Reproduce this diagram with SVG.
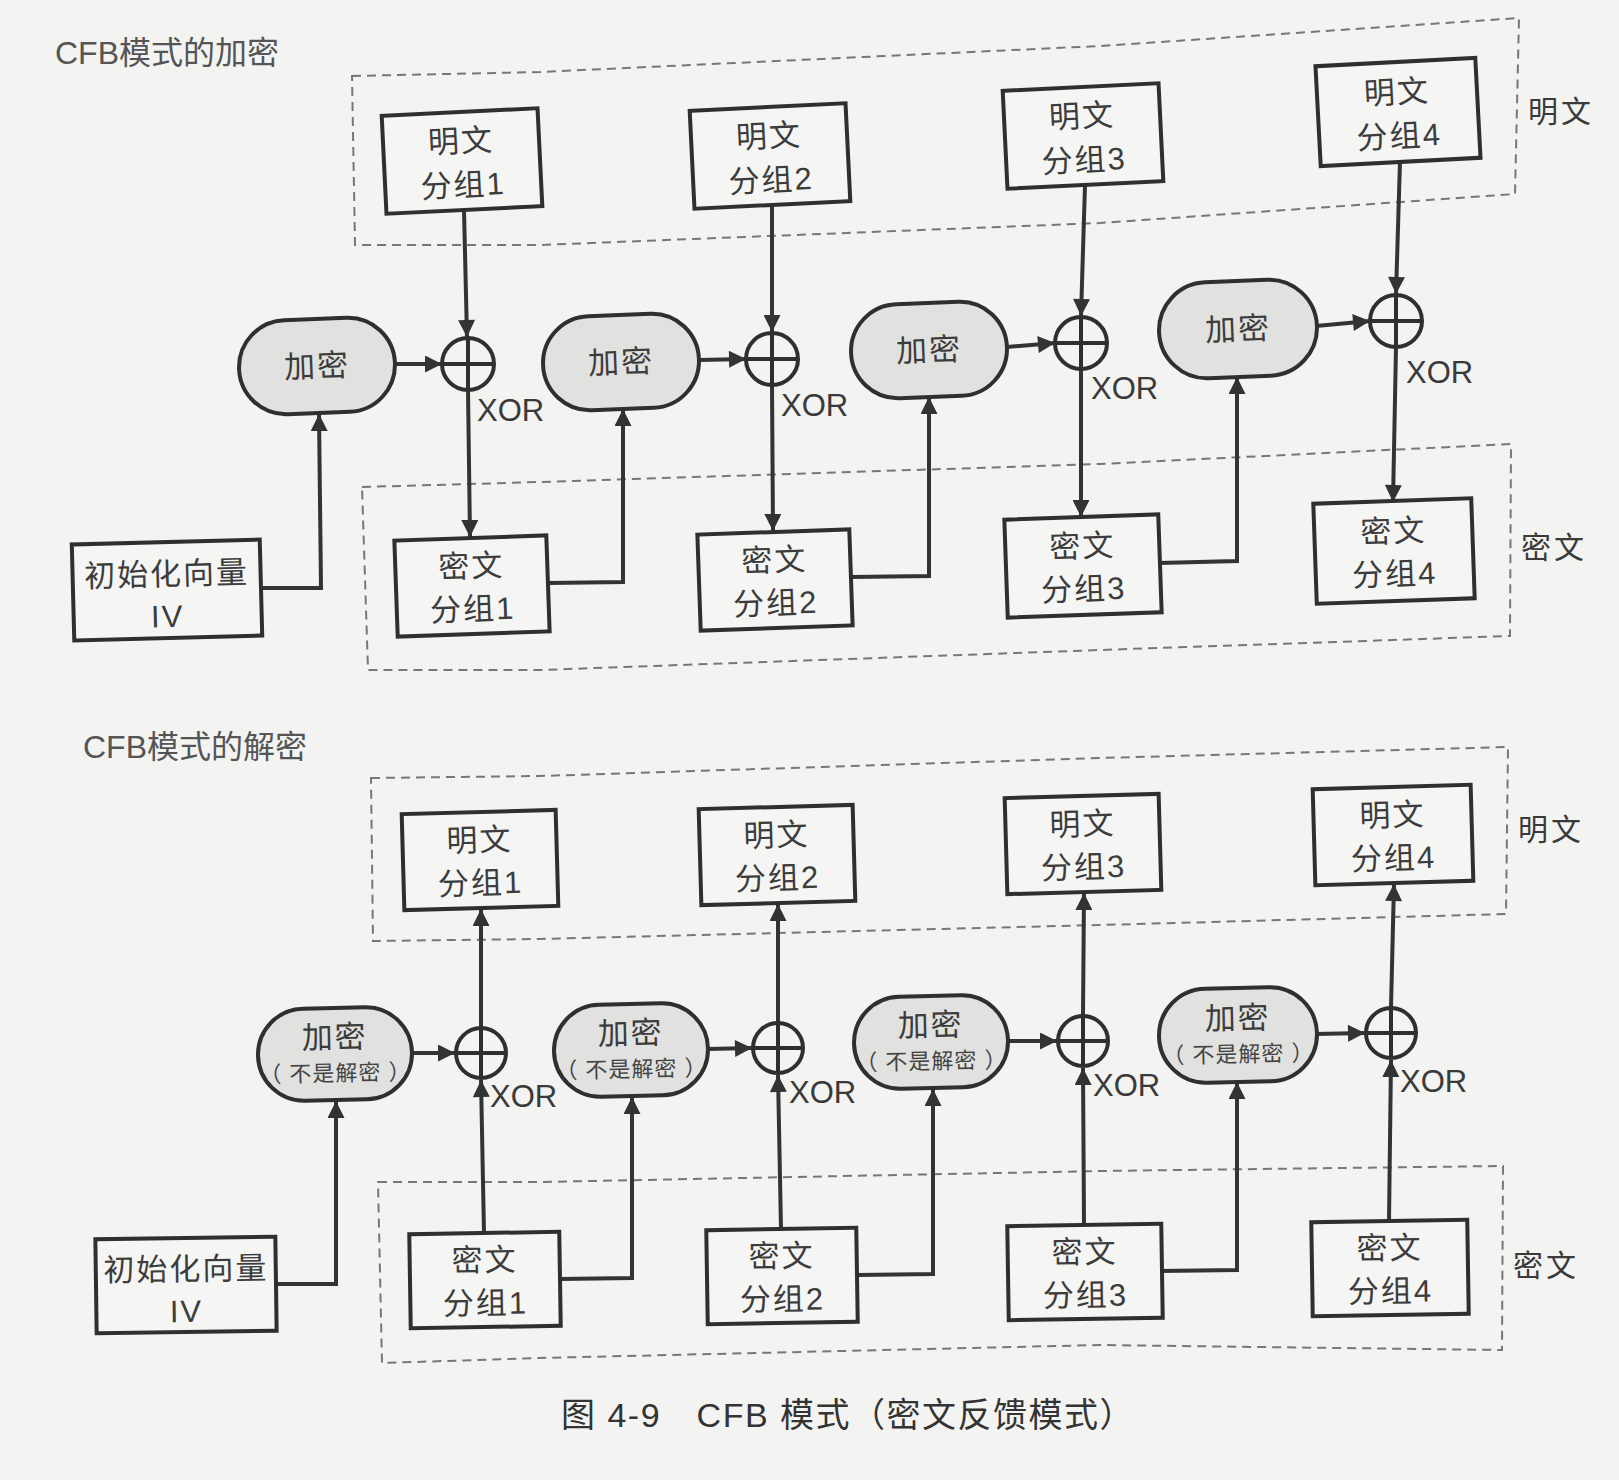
<svg xmlns="http://www.w3.org/2000/svg" width="1619" height="1480" viewBox="0 0 1619 1480">
<defs>
<style>
.bg{fill:#f3f3f1}
.box{fill:#f5f5f3;stroke:#2f2f2f;stroke-width:4}
.enc{fill:#e1e1df;stroke:#2f2f2f;stroke-width:4}
.xo{fill:none;stroke:#2f2f2f;stroke-width:4}
.t{font-family:"Liberation Sans","Noto Sans CJK SC",sans-serif;font-size:31px;fill:#3c3c3c;text-anchor:middle;letter-spacing:2px}
.s{font-family:"Liberation Sans","Noto Sans CJK SC",sans-serif;font-size:22px;fill:#444;text-anchor:middle;letter-spacing:1px}
.lbl{font-family:"Liberation Sans","Noto Sans CJK SC",sans-serif;font-size:30px;fill:#3a3a3a;letter-spacing:3px}
.xl{font-family:"Liberation Sans","Noto Sans CJK SC",sans-serif;font-size:31px;fill:#3a3a3a}
.ttl{font-family:"Liberation Sans","Noto Sans CJK SC",sans-serif;font-size:32px;fill:#555}
.cap{font-family:"Liberation Sans","Noto Sans CJK SC",sans-serif;font-size:34px;fill:#333;letter-spacing:1.5px}
.conn{fill:none;stroke:#333;stroke-width:4}
.dash{fill:none;stroke:#777;stroke-width:2;stroke-dasharray:9 6}
</style>
<marker id="arr" viewBox="0 0 10 10" refX="10" refY="5" markerUnits="userSpaceOnUse" markerWidth="26" markerHeight="17" orient="auto">
<path d="M0,0 L10,5 L0,10 z" fill="#333"/>
</marker>
</defs>
<rect class="bg" x="0" y="0" width="1619" height="1480"/>

<!-- titles -->
<text class="ttl" x="55" y="64">CFB模式的加密</text>
<text class="ttl" x="83" y="758">CFB模式的解密</text>
<text class="cap" x="561" y="1427">图 4-9　CFB 模式（密文反馈模式）</text>

<!-- dashed groups -->
<g id="groups">
<polygon class="dash" points="352,76 540,72 1100,46 1519,18 1515,194 1100,223 540,245 355,245"/>
<polygon class="dash" points="362,487 540,482 1100,464 1511,444 1510,636 1100,650 540,670 368,670"/>
<polygon class="dash" points="371,778 540,776 1100,758 1508,747 1506,914 1100,925 540,939 373,941"/>
<polygon class="dash" points="378,1182 540,1182 1100,1171 1503,1166 1502,1350 1100,1345 540,1358 382,1363"/>
<text class="lbl" x="1528" y="122">明文</text>
<text class="lbl" x="1521" y="558">密文</text>
<text class="lbl" x="1518" y="840">明文</text>
<text class="lbl" x="1513" y="1276">密文</text>
</g>

<!-- connectors -->
<g id="connectors">
<!-- encryption -->
<path class="conn" d="M464,210 L467,337" marker-end="url(#arr)"/>
<path class="conn" d="M468,390 L470,537" marker-end="url(#arr)"/>
<path class="conn" d="M395,364 L442,364" marker-end="url(#arr)"/>
<path class="conn" d="M261,588 L321,588 L319,414" marker-end="url(#arr)"/>
<path class="conn" d="M548,583 L623,582 L623,409" marker-end="url(#arr)"/>
<path class="conn" d="M851,577 L929,576 L929,397" marker-end="url(#arr)"/>
<path class="conn" d="M1159,563 L1237,561 L1237,377" marker-end="url(#arr)"/>
<path class="conn" d="M772,205 L772,332" marker-end="url(#arr)"/>
<path class="conn" d="M772,385 L773,531" marker-end="url(#arr)"/>
<path class="conn" d="M699,360 L746,359" marker-end="url(#arr)"/>
<path class="conn" d="M1085,185 L1081,316" marker-end="url(#arr)"/>
<path class="conn" d="M1081,369 L1081,517" marker-end="url(#arr)"/>
<path class="conn" d="M1007,347 L1055,343" marker-end="url(#arr)"/>
<path class="conn" d="M1400,161 L1396,294" marker-end="url(#arr)"/>
<path class="conn" d="M1396,347 L1393,502" marker-end="url(#arr)"/>
<path class="conn" d="M1316,326 L1370,321" marker-end="url(#arr)"/>
<!-- decryption -->
<path class="conn" d="M481,1027 L481,909" marker-end="url(#arr)"/>
<path class="conn" d="M484,1233 L481,1080" marker-end="url(#arr)"/>
<path class="conn" d="M412,1053 L455,1053" marker-end="url(#arr)"/>
<path class="conn" d="M276,1284 L336,1284 L336,1101" marker-end="url(#arr)"/>
<path class="conn" d="M560,1279 L632,1278 L632,1097" marker-end="url(#arr)"/>
<path class="conn" d="M857,1275 L933,1274 L933,1089" marker-end="url(#arr)"/>
<path class="conn" d="M1160,1271 L1237,1270 L1237,1082" marker-end="url(#arr)"/>
<path class="conn" d="M781,1229 L778,1075" marker-end="url(#arr)"/>
<path class="conn" d="M778,1022 L778,904" marker-end="url(#arr)"/>
<path class="conn" d="M708,1049 L752,1048" marker-end="url(#arr)"/>
<path class="conn" d="M1084,1225 L1083,1068" marker-end="url(#arr)"/>
<path class="conn" d="M1083,1015 L1084,893" marker-end="url(#arr)"/>
<path class="conn" d="M1008,1041 L1057,1041" marker-end="url(#arr)"/>
<path class="conn" d="M1389,1221 L1391,1060" marker-end="url(#arr)"/>
<path class="conn" d="M1391,1007 L1394,884" marker-end="url(#arr)"/>
<path class="conn" d="M1315,1034 L1365,1033" marker-end="url(#arr)"/>
</g>

<!-- encryption nodes -->
<g id="enc-plain1" transform="translate(462,161) rotate(-2.8)"><rect class="box" x="-78" y="-49" width="156" height="98"/><text class="t" y="-9">明文</text><text class="t" y="35">分组1</text></g>
<g id="enc-plain2" transform="translate(770,156) rotate(-2.8)"><rect class="box" x="-78" y="-49" width="156" height="98"/><text class="t" y="-9">明文</text><text class="t" y="35">分组2</text></g>
<g id="enc-plain3" transform="translate(1083,136) rotate(-2.8)"><rect class="box" x="-78" y="-49" width="156" height="98"/><text class="t" y="-9">明文</text><text class="t" y="35">分组3</text></g>
<g id="enc-plain4" transform="translate(1398,112) rotate(-3)"><rect class="box" x="-80" y="-50" width="160" height="100"/><text class="t" y="-9">明文</text><text class="t" y="35">分组4</text></g>

<g id="enc-e1" transform="translate(317,366) rotate(-2.2)"><rect class="enc" x="-78" y="-47" width="156" height="94" rx="47"/><text class="t" y="11">加密</text></g>
<g id="enc-e2" transform="translate(621,362) rotate(-2.2)"><rect class="enc" x="-78" y="-47" width="156" height="94" rx="47"/><text class="t" y="11">加密</text></g>
<g id="enc-e3" transform="translate(929,350) rotate(-2.2)"><rect class="enc" x="-78" y="-47" width="156" height="94" rx="47"/><text class="t" y="11">加密</text></g>
<g id="enc-e4" transform="translate(1238,329) rotate(-2.4)"><rect class="enc" x="-79" y="-48" width="158" height="96" rx="48"/><text class="t" y="11">加密</text></g>

<g id="enc-x1" transform="translate(468,364)"><circle class="xo" r="26"/><path class="xo" d="M-26,0 H26 M0,-26 V26"/></g>
<g id="enc-x2" transform="translate(772,359)"><circle class="xo" r="26"/><path class="xo" d="M-26,0 H26 M0,-26 V26"/></g>
<g id="enc-x3" transform="translate(1081,343)"><circle class="xo" r="26"/><path class="xo" d="M-26,0 H26 M0,-26 V26"/></g>
<g id="enc-x4" transform="translate(1396,321)"><circle class="xo" r="26"/><path class="xo" d="M-26,0 H26 M0,-26 V26"/></g>
<g id="enc-xor-labels">
<text class="xl" x="477" y="421">XOR</text>
<text class="xl" x="781" y="416">XOR</text>
<text class="xl" x="1091" y="399">XOR</text>
<text class="xl" x="1406" y="383">XOR</text>
</g>

<g id="enc-cipher1" transform="translate(472,586) rotate(-2)"><rect class="box" x="-76" y="-48" width="152" height="96"/><text class="t" y="-9">密文</text><text class="t" y="34">分组1</text></g>
<g id="enc-cipher2" transform="translate(775,580) rotate(-2)"><rect class="box" x="-76" y="-48" width="152" height="96"/><text class="t" y="-9">密文</text><text class="t" y="34">分组2</text></g>
<g id="enc-cipher3" transform="translate(1083,566) rotate(-2)"><rect class="box" x="-77" y="-49" width="154" height="98"/><text class="t" y="-9">密文</text><text class="t" y="34">分组3</text></g>
<g id="enc-cipher4" transform="translate(1394,551) rotate(-2)"><rect class="box" x="-79" y="-50" width="158" height="100"/><text class="t" y="-9">密文</text><text class="t" y="34">分组4</text></g>

<g id="enc-iv" transform="translate(167,590) rotate(-1.5)"><rect class="box" x="-94" y="-48" width="188" height="96"/><text class="t" y="-5">初始化向量</text><text class="t" y="37">IV</text></g>

<!-- decryption nodes -->
<g id="dec-plain1" transform="translate(480,860) rotate(-1.6)"><rect class="box" x="-77" y="-48" width="154" height="96"/><text class="t" y="-9">明文</text><text class="t" y="34">分组1</text></g>
<g id="dec-plain2" transform="translate(777,855) rotate(-1.6)"><rect class="box" x="-77" y="-48" width="154" height="96"/><text class="t" y="-9">明文</text><text class="t" y="34">分组2</text></g>
<g id="dec-plain3" transform="translate(1083,844) rotate(-1.6)"><rect class="box" x="-77" y="-48" width="154" height="96"/><text class="t" y="-9">明文</text><text class="t" y="34">分组3</text></g>
<g id="dec-plain4" transform="translate(1393,835) rotate(-1.6)"><rect class="box" x="-79" y="-48" width="158" height="96"/><text class="t" y="-9">明文</text><text class="t" y="34">分组4</text></g>

<g id="dec-e1" transform="translate(335,1054) rotate(-1.2)"><rect class="enc" x="-77" y="-46" width="154" height="92" rx="46"/><text class="t" y="-6">加密</text><text class="s" y="27">（ 不是解密 ）</text></g>
<g id="dec-e2" transform="translate(631,1050) rotate(-1.2)"><rect class="enc" x="-77" y="-46" width="154" height="92" rx="46"/><text class="t" y="-6">加密</text><text class="s" y="27">（ 不是解密 ）</text></g>
<g id="dec-e3" transform="translate(931,1042) rotate(-1.2)"><rect class="enc" x="-77" y="-46" width="154" height="92" rx="46"/><text class="t" y="-6">加密</text><text class="s" y="27">（ 不是解密 ）</text></g>
<g id="dec-e4" transform="translate(1238,1035) rotate(-1.2)"><rect class="enc" x="-79" y="-47" width="158" height="94" rx="47"/><text class="t" y="-6">加密</text><text class="s" y="27">（ 不是解密 ）</text></g>

<g id="dec-x1" transform="translate(481,1053)"><circle class="xo" r="25"/><path class="xo" d="M-25,0 H25 M0,-25 V25"/></g>
<g id="dec-x2" transform="translate(778,1048)"><circle class="xo" r="25"/><path class="xo" d="M-25,0 H25 M0,-25 V25"/></g>
<g id="dec-x3" transform="translate(1083,1041)"><circle class="xo" r="25"/><path class="xo" d="M-25,0 H25 M0,-25 V25"/></g>
<g id="dec-x4" transform="translate(1391,1033)"><circle class="xo" r="25"/><path class="xo" d="M-25,0 H25 M0,-25 V25"/></g>
<g id="dec-xor-labels">
<text class="xl" x="490" y="1107">XOR</text>
<text class="xl" x="789" y="1103">XOR</text>
<text class="xl" x="1093" y="1096">XOR</text>
<text class="xl" x="1400" y="1092">XOR</text>
</g>

<g id="dec-cipher1" transform="translate(485,1280) rotate(-0.9)"><rect class="box" x="-75" y="-47" width="150" height="94"/><text class="t" y="-9">密文</text><text class="t" y="34">分组1</text></g>
<g id="dec-cipher2" transform="translate(782,1276) rotate(-0.9)"><rect class="box" x="-75" y="-47" width="150" height="94"/><text class="t" y="-9">密文</text><text class="t" y="34">分组2</text></g>
<g id="dec-cipher3" transform="translate(1085,1272) rotate(-0.9)"><rect class="box" x="-77" y="-47" width="154" height="94"/><text class="t" y="-9">密文</text><text class="t" y="34">分组3</text></g>
<g id="dec-cipher4" transform="translate(1390,1268) rotate(-0.9)"><rect class="box" x="-78" y="-47" width="156" height="94"/><text class="t" y="-9">密文</text><text class="t" y="34">分组4</text></g>

<g id="dec-iv" transform="translate(186,1285) rotate(-0.8)"><rect class="box" x="-90" y="-47" width="180" height="94"/><text class="t" y="-5">初始化向量</text><text class="t" y="37">IV</text></g>
</svg>
